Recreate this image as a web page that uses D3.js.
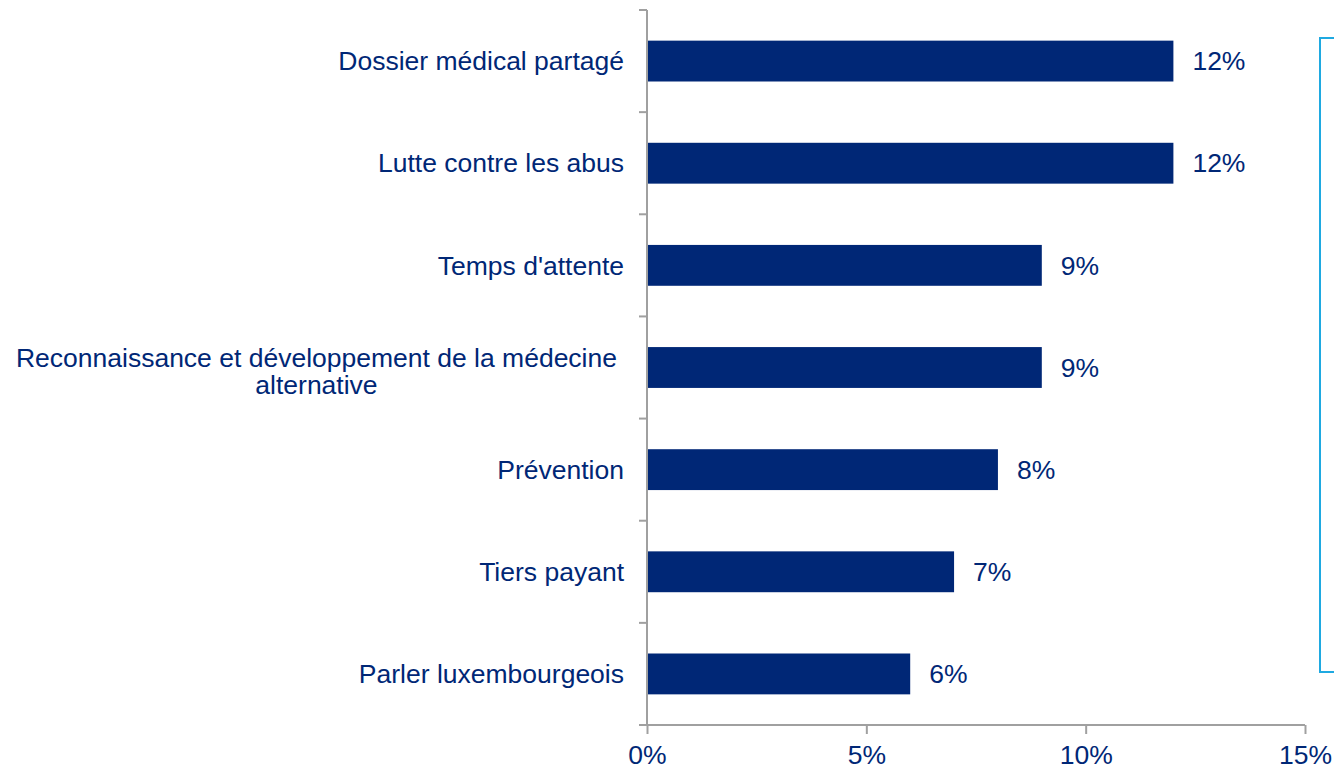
<!DOCTYPE html>
<html>
<head>
<meta charset="utf-8">
<script src="https://cdn.jsdelivr.net/npm/d3@7"></script>
<style>
  body { margin: 0; background: #fff; }
  text { font-family: "Liberation Sans", Arial, sans-serif; }
</style>
</head>
<body>
<script>
// categories and values (percent)
var categories = [
  "Dossier médical partagé",
  "Lutte contre les abus",
  "Temps d'attente",
  "Reconnaissance et développement de la médecine|alternative",
  "Prévention",
  "Tiers payant",
  "Parler luxembourgeois"
];
var values = [12, 12, 9, 9, 8, 7, 6];
var xTicks = [0, 5, 10, 15];

var width = 1334,
    height = 769;

var navy = "#002776",
    axisGrey = "#a0a0a0",
    fontSize = "26.5px";

var svg = d3.select("body")
  .append("svg")
  .attr("width", width)
  .attr("height", height);

// x scale and band scale
var x = d3.scaleLinear()
  .domain([0, 15])
  .range([647, 1305]);

var y = d3.scaleBand()
  .domain(categories)
  .range([10, 725])
  .paddingInner(0.6)
  .paddingOuter(0.3);

// light blue frame on the right
svg.append("rect")
  .attr("x", 1320)
  .attr("y", 38)
  .attr("width", 40)
  .attr("height", 634)
  .attr("fill", "none")
  .attr("stroke", "#1fa9e1")
  .attr("stroke-width", 2);

// bars
svg.append("g")
  .selectAll("rect")
  .data(values)
  .enter()
  .append("rect")
  .attr("x", x(0))
  .attr("y", function(d, i) { return y(categories[i]); })
  .attr("width", function(d) { return x(d) - x(0); })
  .attr("height", y.bandwidth())
  .attr("fill", navy);

// value labels
svg.append("g")
  .selectAll("text")
  .data(values)
  .enter()
  .append("text")
  .attr("x", function(d) { return x(d) + 19; })
  .attr("y", function(d, i) { return y(categories[i]) + y.bandwidth() / 2; })
  .attr("dy", "0.35em")
  .attr("fill", navy)
  .style("font-size", fontSize)
  .text(function(d) { return d + "%"; });

// y axis line and ticks at category boundaries
var boundaries = d3.range(categories.length + 1).map(function(i) { return 10 + i * (715 / categories.length); });
var yAxis = svg.append("g");
yAxis.append("line")
  .attr("x1", x(0)).attr("x2", x(0))
  .attr("y1", 10).attr("y2", 725)
  .attr("stroke", axisGrey).attr("stroke-width", 2);
yAxis.selectAll(".tick")
  .data(boundaries)
  .enter()
  .append("line")
  .attr("x1", x(0) - 8).attr("x2", x(0))
  .attr("y1", function(d) { return d; })
  .attr("y2", function(d) { return d; })
  .attr("stroke", axisGrey).attr("stroke-width", 2);

// category labels
var labels = svg.append("g");
categories.forEach(function(c) {
  var parts = c.split("|");
  var cy = y(c) + y.bandwidth() / 2;
  if (parts.length === 1) {
    labels.append("text")
      .attr("x", 624)
      .attr("y", cy)
      .attr("dy", "0.35em")
      .attr("text-anchor", "end")
      .attr("fill", navy)
      .style("font-size", fontSize)
      .text(c);
  } else {
    var l1 = labels.append("text")
      .attr("x", 617)
      .attr("y", cy - 10)
      .attr("dy", "0.35em")
      .attr("text-anchor", "end")
      .attr("fill", navy)
      .style("font-size", fontSize)
      .text(parts[0]);
    var w = l1.node().getComputedTextLength();
    labels.append("text")
      .attr("x", 617 - w / 2)
      .attr("y", cy + 17)
      .attr("dy", "0.35em")
      .attr("text-anchor", "middle")
      .attr("fill", navy)
      .style("font-size", fontSize)
      .text(parts[1]);
  }
});

// x axis
var xAxis = svg.append("g")
  .attr("transform", "translate(0,725)")
  .call(d3.axisBottom(x)
    .tickValues(xTicks)
    .tickSize(9)
    .tickPadding(11)
    .tickFormat(function(d) { return d + "%"; }));
xAxis.select(".domain")
  .attr("stroke", axisGrey).attr("stroke-width", 2)
  .attr("d", "M" + x(0) + ",0H" + x(15));
xAxis.selectAll(".tick line")
  .attr("stroke", axisGrey).attr("stroke-width", 2);
xAxis.selectAll(".tick text")
  .attr("fill", navy)
  .style("font-size", fontSize)
  .style("font-family", "'Liberation Sans', Arial, sans-serif");
</script>
</body>
</html>
